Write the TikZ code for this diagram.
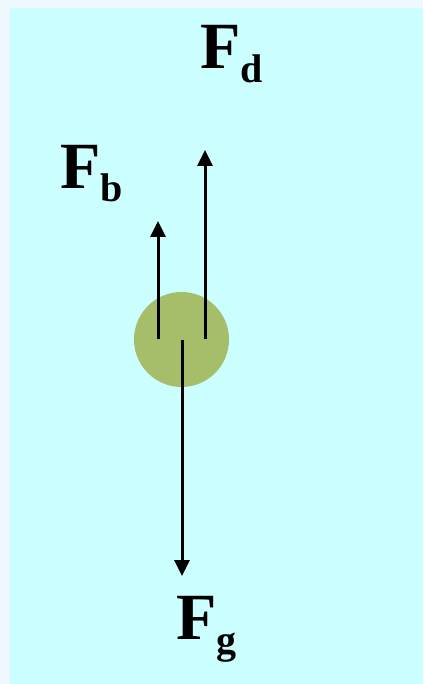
\documentclass[tikz,border=0pt]{standalone}
\usepackage{fontspec}
\setmainfont{Liberation Serif}
\usetikzlibrary{arrows.meta}
\definecolor{bgedge}{RGB}{240,248,255}
\definecolor{bgcyan}{RGB}{204,255,255}
\definecolor{ball}{RGB}{166,190,106}
\begin{document}
\begin{tikzpicture}[x=1pt,y=-1pt,
  force/.style={line width=3pt,-{Triangle[length=16pt,width=15pt]}},
  lbl/.style={anchor=base west,inner sep=0pt,font=\fontsize{66}{66}\selectfont\bfseries}]
\useasboundingbox (0,0) rectangle (423,684);
\fill[bgedge] (0,0) rectangle (423,684);
\fill[bgcyan] (10,8) rectangle (423,684);
\node[circle,fill=ball,minimum size=95pt,inner sep=0pt] (ball) at (181.5,339.5) {};
\coordinate (b0) at (158,339);
\coordinate (b1) at (158,221);
\coordinate (d0) at (205,339);
\coordinate (d1) at (205,150);
\coordinate (g0) at (182,340);
\coordinate (g1) at (182,576);
\draw[force] (b0) -- (b1);
\draw[force] (d0) -- (d1);
\draw[force] (g0) -- (g1);
\node[lbl] (Fd) at (200,69) {F\raisebox{-14pt}{\fontsize{40}{40}\selectfont d}};
\node[lbl] (Fb) at (60,189) {F\raisebox{-13pt}{\fontsize{40}{40}\selectfont b}};
\node[lbl] (Fg) at (176,639) {F\raisebox{-14pt}{\fontsize{40}{40}\selectfont g}};
\end{tikzpicture}
\end{document}
